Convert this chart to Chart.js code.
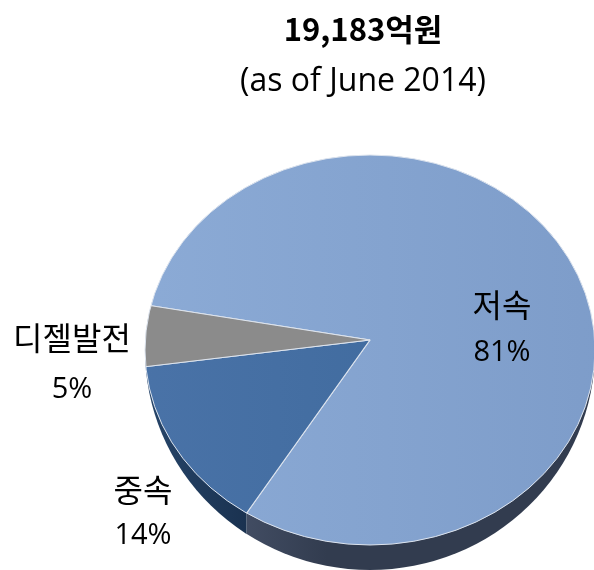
<!DOCTYPE html>
<html>
<head>
<meta charset="utf-8">
<style>
  html, body { margin: 0; padding: 0; background: #fff; overflow: hidden; }
  canvas { display: block; }
</style>
<script src="https://cdn.jsdelivr.net/npm/chart.js@4"></script>
</head>
<body>
<canvas id="pieChart" width="594" height="570"></canvas>
<script>
"use strict";

const categories = ['저속', '중속', '디젤발전'];
const shares = [81, 14, 5];
const titleText = '19,183억원';
const subtitleText = '(as of June 2014)';

const FONT = '"Open Sans", "Noto Sans CJK KR", sans-serif';
const CJK_FONT = '"Noto Sans CJK KR", "Open Sans", sans-serif';

// where the perspective ellipse sits; the apex is above its centre
const APEX = { x: 370, y: 340 };
const RIM = { x: 370, y: 350, rx: 225, ry: 195, sideRy: 220 };
const TILT = 0.87;
const labelSpots = [
    { x: 502, y: 305, py: 353 },
    { x: 143, y: 490, py: 536 },
    { x: 72, y: 338, py: 390 }
];

const canvas = document.getElementById('pieChart');
const c2d = canvas.getContext('2d');

function sweep(left, right, x0 = 145, x1 = 594) {
    const g = c2d.createLinearGradient(x0, 0, x1, 0);
    g.addColorStop(0, left);
    g.addColorStop(1, right);
    return g;
}

const faceColors = [
    sweep('#8cabd6', '#7d9cc9'),
    sweep('#4a73a8', '#3a6698'),
    '#8b8b8b'
];

// x where a slice edge meets the rim
function rimX(angle) {
    const dx = Math.cos(angle);
    const dy = Math.sin(angle) * TILT;
    const ox = APEX.x - RIM.x;
    const oy = APEX.y - RIM.y;
    const a = dx * dx / (RIM.rx * RIM.rx) + dy * dy / (RIM.ry * RIM.ry);
    const b = 2 * (ox * dx / (RIM.rx * RIM.rx) + oy * dy / (RIM.ry * RIM.ry));
    const d = ox * ox / (RIM.rx * RIM.rx) + oy * oy / (RIM.ry * RIM.ry) - 1;
    const t = (-b + Math.sqrt(b * b - 4 * a * d)) / (2 * a);
    return APEX.x + t * dx;
}

const perspectivePie = {
    id: 'perspectivePie',
    beforeDatasetsDraw(chart) {
        const ctx = chart.ctx;
        const arcs = chart.getDatasetMeta(0).data;
        const splitX = rimX(arcs[0].endAngle);

        // side wall, dark blue left of the slice edge, slate right of it
        const walls = [
            { from: 0, to: splitX, color: sweep('#264468', '#1a3250', 150, splitX) },
            { from: splitX, to: 594, color: sweep('#414c62', '#323c4f', splitX, splitX + 80) }
        ];
        walls.forEach(w => {
            ctx.save();
            ctx.beginPath();
            ctx.rect(w.from, RIM.y, w.to - w.from, 570 - RIM.y);
            ctx.clip();
            ctx.fillStyle = w.color;
            ctx.beginPath();
            ctx.ellipse(RIM.x, RIM.y, RIM.rx, RIM.sideRy, 0, 0, Math.PI * 2);
            ctx.fill();
            ctx.restore();
        });

        // top face: wedges squashed about the apex, cut off by the rim
        ctx.save();
        ctx.beginPath();
        ctx.ellipse(RIM.x, RIM.y, RIM.rx, RIM.ry, 0, 0, Math.PI * 2);
        ctx.clip();
        ctx.translate(APEX.x, APEX.y);
        ctx.scale(1.1, 1.1 * TILT);
        ctx.translate(-APEX.x, -APEX.y);
        arcs.forEach(a => a.draw(ctx));
        ctx.restore();

        ctx.strokeStyle = '#dde4ee';
        ctx.lineWidth = 1;
        ctx.beginPath();
        ctx.ellipse(RIM.x, RIM.y, RIM.rx, RIM.ry, 0, 0, Math.PI * 2);
        ctx.stroke();
        return false;
    },
    afterDraw(chart) {
        const ctx = chart.ctx;
        ctx.save();
        ctx.fillStyle = '#000';
        ctx.textAlign = 'center';
        ctx.textBaseline = 'middle';
        ctx.font = 'bold 31px ' + CJK_FONT;
        ctx.fillText(titleText, 363, 29);
        ctx.font = '32px ' + FONT;
        ctx.fillText(subtitleText, 363, 82);
        categories.forEach((name, i) => {
            const spot = labelSpots[i];
            ctx.font = '32px ' + CJK_FONT;
            ctx.fillText(name, spot.x, spot.y);
            ctx.font = '29px ' + FONT;
            ctx.fillText(shares[i] + '%', spot.x, spot.py);
        });
        ctx.restore();
    }
};

new Chart(canvas, {
    type: 'pie',
    data: {
        labels: categories,
        datasets: [{
            data: shares,
            backgroundColor: faceColors,
            borderColor: '#dde4ee',
            borderWidth: 1
        }]
    },
    options: {
        responsive: false,
        animation: false,
        rotation: 280.2,
        layout: { padding: { left: 146, right: 0, top: 116, bottom: 6 } },
        events: [],
        plugins: {
            legend: { display: false },
            title: { display: false },
            tooltip: { enabled: false }
        }
    },
    plugins: [perspectivePie]
});
</script>
</body>
</html>
